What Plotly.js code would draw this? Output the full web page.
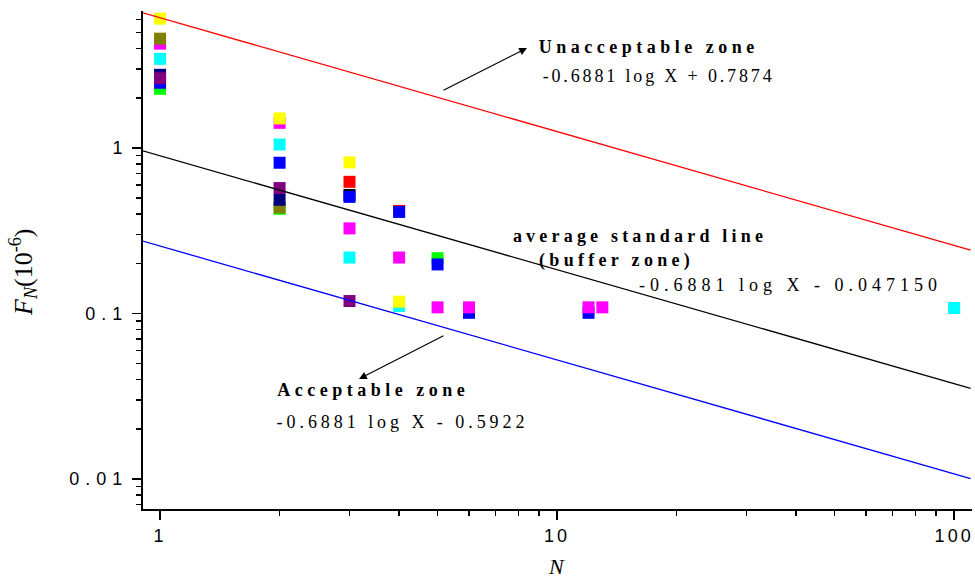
<!DOCTYPE html>
<html>
<head>
<meta charset="utf-8">
<script src="https://cdn.plot.ly/plotly-3.0.1.min.js"></script>
<style>html,body{margin:0;padding:0;background:#fff;}#chart{width:975px;height:579px;}</style>
</head>
<body>
<div id="chart"></div>
<script>
// ---- data ----
const blackN = [3];                    const blackF = [0.52];
const redN = [3, 4];                   const redF = [0.625, 0.417];
const greenN = [1, 2, 5];              const greenF = [2.28, 0.429, 0.216];
const blueN = [1, 2, 3, 4, 5, 6, 12];  const blueF = [2.48, 0.815, 0.507, 0.411, 0.198, 0.101, 0.101];
const cyanN = [1, 2, 3, 4, 100];       const cyanF = [3.46, 1.05, 0.218, 0.111, 0.108];
const magentaN = [1, 2, 3, 4, 5, 6, 12, 13];
const magentaF = [4.27, 1.42, 0.327, 0.218, 0.109, 0.109, 0.109, 0.109];
const yellowN = [1, 2, 3, 4];          const yellowF = [6.05, 1.51, 0.819, 0.118];
const oliveN = [1, 2];                 const oliveF = [4.58, 0.437];
const navyN = [1, 2];                  const navyF = [2.77, 0.487];
const purpleN = [1, 2, 3];             const purpleF = [2.64, 0.573, 0.119];

// reference lines (end points)
const lineN = [0.9, 110];
const unacceptF = [6.59, 0.2414];
const averageF = [0.9646, 0.03532];
const acceptF = [0.2750, 0.01007];

const xMajor = [1, 10, 100];
const xMajorText = ['1', '10', '100'];
const xMinor = [2,3,4,5,6,7,8,9,20,30,40,50,60,70,80,90];
const yMajor = [0.01, 0.1, 1];
const yMajorText = ['0.01', '0.1', '1'];
const yMinor = [0.007,0.008,0.009,0.02,0.03,0.04,0.05,0.06,0.07,0.08,0.09,0.2,0.3,0.4,0.5,0.6,0.7,0.8,0.9,2,3,4,5,6];

function pts(x, y, color) {
  return {x: x, y: y, type: 'scatter', mode: 'markers',
    marker: {symbol: 'square', size: 12, color: color, line: {width: 0}},
    showlegend: false, hoverinfo: 'skip'};
}
function ln(y, color) {
  return {x: lineN, y: y, type: 'scatter', mode: 'lines',
    line: {color: color, width: 1.3}, showlegend: false, hoverinfo: 'skip'};
}

const data = [
  pts(blackN, blackF, '#000000'),
  pts(redN, redF, '#FF0000'),
  pts(greenN, greenF, '#00FF00'),
  pts(blueN, blueF, '#0000FF'),
  pts(cyanN, cyanF, '#00FFFF'),
  pts(magentaN, magentaF, '#FF00FF'),
  pts(yellowN, yellowF, '#FFFF00'),
  pts(oliveN, oliveF, '#808000'),
  pts(navyN, navyF, '#000080'),
  pts(purpleN, purpleF, '#800080'),
  ln(unacceptF, '#FF0000'),
  ln(averageF, '#000000'),
  ln(acceptF, '#0000FF')
];

const L = 143, R = 972, T = 11, B = 509;
const W = 975, H = 579;
function px(x) { return (x - L) / (R - L); }
function py(y) { return (B - y) / (B - T); }

const serif = 'Liberation Serif, Times New Roman, serif';
function txt(text, x, y, bold, spacing) {
  return {text: bold ? '<b>' + text + '</b>' : text, xref: 'paper', yref: 'paper',
    x: px(x), y: py(y), xanchor: 'center', yanchor: 'middle', showarrow: false,
    font: {family: serif, size: 18, color: '#000'}, _sp: spacing};
}
const annots = [
  txt('Unacceptable zone', 648, 47, true, 4.5),
  txt('-0.6881 log X + 0.7874', 658, 76, false, 2.85),
  txt('average standard line', 640, 236, true, 4.2),
  txt('(buffer zone)', 616, 260, true, 4.3),
  txt('-0.6881 log X - 0.047150', 790, 285, false, 5.0),
  txt('Acceptable zone', 373, 390, true, 4.5),
  txt('-0.6881 log X - 0.5922', 402, 422, false, 3.95),
  {text: '', xref: 'paper', yref: 'paper', x: px(527), y: py(48), axref: 'pixel', ayref: 'pixel',
   ax: -85, ay: 43, showarrow: true, arrowhead: 2, arrowsize: 1.3, arrowwidth: 1.2, arrowcolor: '#000', standoff: 0, _sp: 0},
  {text: '', xref: 'paper', yref: 'paper', x: px(359), y: py(379), axref: 'pixel', ayref: 'pixel',
   ax: 86, ay: -44, showarrow: true, arrowhead: 2, arrowsize: 1.3, arrowwidth: 1.2, arrowcolor: '#000', standoff: 0, _sp: 0},
  {text: '<i>F</i><sub><i>N</i></sub>(10<sup>-6</sup>)', xref: 'paper', yref: 'paper',
   x: px(23), y: py(272), xanchor: 'center', yanchor: 'middle', textangle: -90, showarrow: false,
   font: {family: serif, size: 26, color: '#000'}, _sp: 0},
  {text: '<i>N</i>', xref: 'paper', yref: 'paper', x: px(556), y: py(566), xanchor: 'center', yanchor: 'middle',
   showarrow: false, font: {family: serif, size: 22, color: '#000'}, _sp: 0}
];
const spacings = annots.map(a => a._sp);
annots.forEach(a => delete a._sp);

const tickFont = {family: 'Liberation Sans, Arial, sans-serif', size: 18, color: '#000'};
const layout = {
  width: W, height: H,
  margin: {l: L, r: W - R, t: T, b: H - B, pad: 0},
  paper_bgcolor: '#fff', plot_bgcolor: '#fff',
  xaxis: {type: 'log', range: [-0.043, 2.045], showgrid: false, zeroline: false,
    showline: true, linecolor: '#000', linewidth: 2, ticks: 'outside', ticklen: 9, tickwidth: 1.5, tickcolor: '#000',
    tickmode: 'array', tickvals: xMajor, ticktext: xMajorText, tickfont: tickFont,
    minor: {tickmode: 'array', tickvals: xMinor, ticks: 'outside', ticklen: 5, tickwidth: 1.5, tickcolor: '#000', showgrid: false}},
  yaxis: {type: 'log', range: [-2.181, 0.828], showgrid: false, zeroline: false,
    showline: true, linecolor: '#000', linewidth: 2, ticks: 'outside', ticklen: 9, tickwidth: 1.5, tickcolor: '#000',
    tickmode: 'array', tickvals: yMajor, ticktext: yMajorText, tickfont: tickFont,
    minor: {tickmode: 'array', tickvals: yMinor, ticks: 'outside', ticklen: 5, tickwidth: 1.5, tickcolor: '#000', showgrid: false}},
  annotations: annots,
  showlegend: false
};

Plotly.newPlot('chart', data, layout, {staticPlot: true, displayModeBar: false}).then(function (gd) {
  gd.querySelectorAll('.xtick text').forEach(function (t) { t.style.letterSpacing = '3px'; });
  gd.querySelectorAll('.ytick text').forEach(function (t) { t.style.letterSpacing = '6px'; });
  gd.querySelectorAll('.annotation').forEach(function (g) {
    const i = +g.getAttribute('data-index');
    const sp = spacings[i];
    if (sp) {
      g.querySelectorAll('text').forEach(function (t) { t.style.letterSpacing = sp + 'px'; });
    }
  });
});
</script>
</body>
</html>
